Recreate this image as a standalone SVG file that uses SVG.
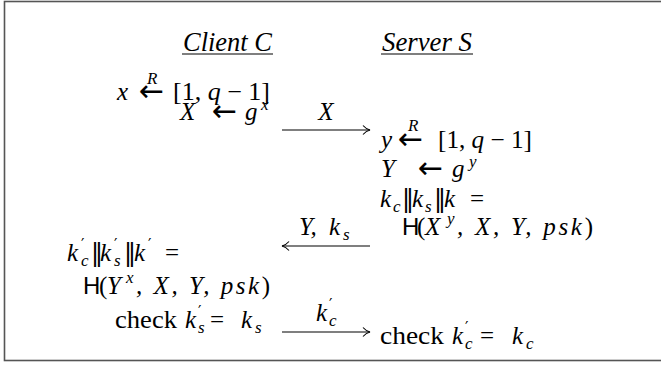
<svg xmlns="http://www.w3.org/2000/svg" width="661" height="366" viewBox="0 0 661 366">
<defs>
<style>
.t{font-family:"Liberation Serif","Times New Roman",serif;font-size:25px;fill:#000}
.hd{font-family:"Liberation Serif","Times New Roman",serif;font-size:27px;font-style:italic;fill:#000}
.it{font-style:italic}
.rm{font-style:normal}
.sf{font-family:"Liberation Sans",Arial,sans-serif;font-style:normal;font-size:24px}
.sm{font-size:17px}
.ar{font-family:"DejaVu Sans",sans-serif;font-style:normal;font-size:30px}
.pr{font-family:"DejaVu Sans",sans-serif;font-style:normal;font-size:15px}
.bar{font-family:"DejaVu Sans",sans-serif;font-style:normal;font-size:24px}
.conn line{stroke:#000;stroke-width:1.1;fill:none}
.ul{stroke:#000;stroke-width:1.2}
</style>
<marker id="hd" markerWidth="12" markerHeight="12" refX="10" refY="6" orient="auto" markerUnits="userSpaceOnUse">
<path d="M3,1.5 Q6,5 10,6 Q6,7 3,10.5" fill="none" stroke="#000" stroke-width="1.1"/>
</marker>
</defs>
<rect x="4.5" y="1.5" width="670" height="359" fill="#fff" stroke="#555" stroke-width="1.6"/>

<g id="client">
<text class="hd" x="183" y="51" textLength="89" lengthAdjust="spacingAndGlyphs">Client C</text>
<line class="ul" x1="182" y1="54" x2="273" y2="54"/>
</g>
<g id="server">
<text class="hd" x="382" y="51" textLength="90" lengthAdjust="spacingAndGlyphs">Server S</text>
<line class="ul" x1="381" y1="54" x2="473" y2="54"/>
</g>

<g id="client-steps">
<text class="t it" x="117" y="100">x</text>
<text class="t ar" x="139" y="101">←</text>
<text class="t it sm" x="147" y="84">R</text>
<text class="t rm" x="173" y="100" textLength="97" lengthAdjust="spacingAndGlyphs">[1, <tspan class="it">q</tspan> − 1]</text>

<text class="t it" x="180" y="120">X</text>
<text class="t ar" x="212" y="121">←</text>
<text class="t it" x="245" y="120">g</text>
<text class="t it sm" x="261" y="110">x</text>

<text class="t it" y="261"><tspan x="67">k</tspan><tspan class="pr" x="81" y="250">′</tspan><tspan class="sm" x="81" y="266">c</tspan><tspan class="bar" x="91" y="261">‖</tspan><tspan x="100">k</tspan><tspan class="pr" x="114" y="250">′</tspan><tspan class="sm" x="114" y="266">s</tspan><tspan class="bar" x="124" y="261">‖</tspan><tspan x="134">k</tspan><tspan class="pr" x="148" y="250">′</tspan><tspan class="rm" x="165" y="261">=</tspan></text>
<text class="t it" y="294"><tspan class="sf" x="83">H</tspan><tspan class="rm" x="99">(</tspan><tspan x="107">Y</tspan><tspan class="sm" x="126" y="283">x</tspan></text>
<text class="t it" x="136" y="294" textLength="134" lengthAdjust="spacing">, X, Y, psk<tspan class="rm">)</tspan></text>
<text class="t rm" y="328"><tspan x="115" textLength="62" lengthAdjust="spacingAndGlyphs">check</tspan><tspan class="it" x="185">k</tspan><tspan class="pr" x="198" y="317">′</tspan><tspan class="it sm" x="198" y="333">s</tspan><tspan x="210" y="328">=</tspan><tspan class="it" x="241">k</tspan><tspan class="it sm" x="255" y="333">s</tspan></text>
</g>

<g id="server-steps">
<text class="t it" x="381" y="148">y</text>
<text class="t ar" x="398" y="149">←</text>
<text class="t it sm" x="408" y="131">R</text>
<text class="t rm" x="438" y="148" textLength="94" lengthAdjust="spacingAndGlyphs">[1, <tspan class="it">q</tspan> − 1]</text>

<text class="t it" x="381" y="177">Y</text>
<text class="t ar" x="418" y="178">←</text>
<text class="t it" x="452" y="177">g</text>
<text class="t it sm" x="469" y="167">y</text>

<text class="t it" y="207"><tspan x="380">k</tspan><tspan class="sm" x="393" y="212">c</tspan><tspan class="bar" x="402" y="207">‖</tspan><tspan x="412">k</tspan><tspan class="sm" x="425" y="212">s</tspan><tspan class="bar" x="434" y="207">‖</tspan><tspan x="444">k</tspan><tspan class="rm" x="470">=</tspan></text>
<text class="t it" y="235"><tspan class="sf" x="402">H</tspan><tspan class="rm" x="417">(</tspan><tspan x="425">X</tspan><tspan class="sm" x="447" y="224">y</tspan></text>
<text class="t it" x="457" y="235" textLength="136" lengthAdjust="spacing">, X, Y, psk<tspan class="rm">)</tspan></text>

<text class="t rm" y="344"><tspan x="380" textLength="64" lengthAdjust="spacingAndGlyphs">check</tspan><tspan class="it" x="452">k</tspan><tspan class="pr" x="465" y="333">′</tspan><tspan class="it sm" x="465" y="349">c</tspan><tspan x="480" y="344">=</tspan><tspan class="it" x="512">k</tspan><tspan class="it sm" x="526" y="349">c</tspan></text>
</g>

<g class="conn" id="connectors">
<line x1="282" y1="130" x2="370" y2="130" marker-end="url(#hd)"/>
<text class="t it" x="326" y="120" text-anchor="middle">X</text>
<line x1="370" y1="246" x2="282" y2="246" marker-end="url(#hd)"/>
<text class="t it" y="235"><tspan x="299">Y,</tspan><tspan x="329">k</tspan><tspan class="sm" x="343" y="240">s</tspan></text>
<line x1="282" y1="332" x2="370" y2="332" marker-end="url(#hd)"/>
<text class="t it" y="321"><tspan x="316">k</tspan><tspan class="pr" x="329" y="310">′</tspan><tspan class="sm" x="329" y="326">c</tspan></text>
</g>
</svg>
